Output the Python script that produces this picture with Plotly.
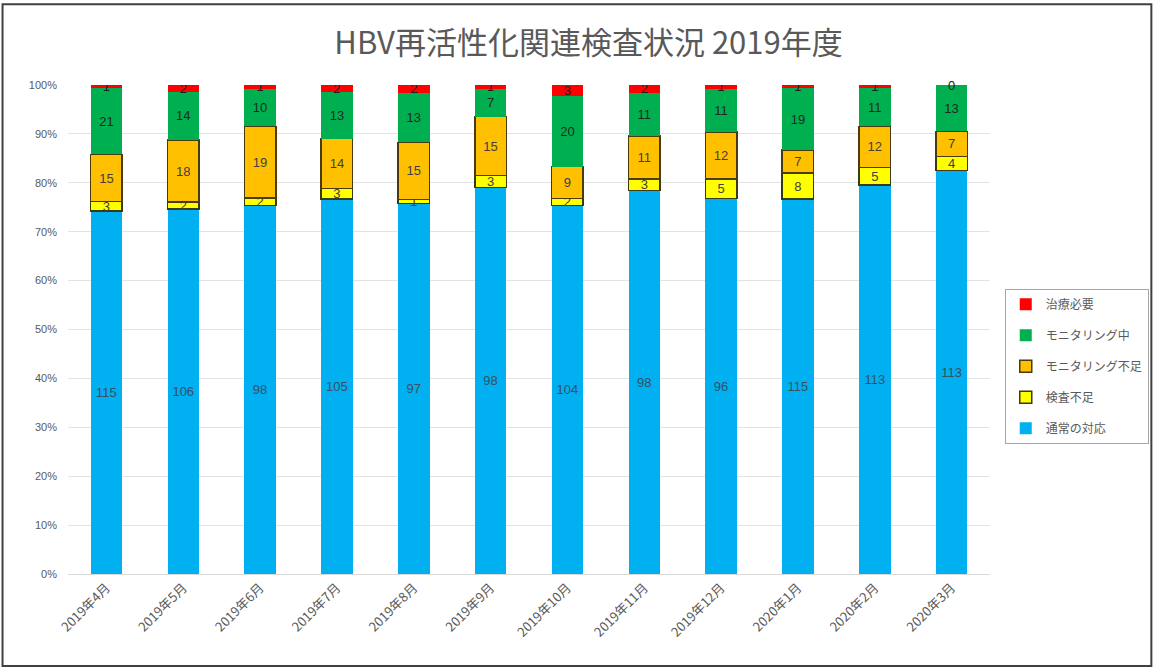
import plotly.graph_objects as go

months = ["2019年4月", "2019年5月", "2019年6月", "2019年7月", "2019年8月", "2019年9月",
          "2019年10月", "2019年11月", "2019年12月", "2020年1月", "2020年2月", "2020年3月"]
normal = [115, 106, 98, 105, 97, 98, 104, 98, 96, 115, 113, 113]          # 通常の対応
lack_test = [3, 2, 2, 3, 1, 3, 2, 3, 5, 8, 5, 4]                          # 検査不足
lack_monitor = [15, 18, 19, 14, 15, 15, 9, 11, 12, 7, 12, 7]              # モニタリング不足
monitoring = [21, 14, 10, 13, 13, 7, 20, 11, 11, 19, 11, 13]              # モニタリング中
treatment = [1, 2, 1, 2, 2, 1, 3, 2, 1, 1, 1, 0]                          # 治療必要

series = [
    ("通常の対応", normal, "#00B0F0", None, "#3B4F63"),
    ("検査不足", lack_test, "#FFFF00", "#3A3A10", "#404040"),
    ("モニタリング不足", lack_monitor, "#FFC000", "#4A3A10", "#404040"),
    ("モニタリング中", monitoring, "#00B050", None, "#1E2A22"),
    ("治療必要", treatment, "#FF0000", None, "#202020"),
]

fig = go.Figure()
n = len(series)
for i, (name, vals, color, line, tcolor) in enumerate(series):
    fig.add_trace(go.Bar(
        x=months, y=vals, name=name,
        marker=dict(color=color,
                    line=dict(color=line if line else color, width=1.5 if line else 0)),
        text=[str(v) for v in vals],
        textposition="inside", insidetextanchor="middle",
        textangle=0, constraintext="none",
        textfont=dict(size=13, color=tcolor, family="Liberation Sans, Arial"),
        legendgroup=name, legendrank=1000 + (n - i),
    ))

# zero-valued top segments still show their label at the top of the stack
for m, v in zip(months, treatment):
    if v == 0:
        fig.add_annotation(x=m, y=100, text=str(v), showarrow=False, yanchor="middle",
                           font=dict(size=13, color="#202020", family="Liberation Sans, Arial"))

fig.update_layout(
    width=1154, height=670,
    barmode="stack", barnorm="percent", bargap=0.59,
    paper_bgcolor="white", plot_bgcolor="white",
    margin=dict(l=68, r=164, t=85, b=96, autoexpand=False),
    title=dict(text="HBV再活性化関連検査状況 2019年度", x=0.51, xanchor="center",
               y=0.935, yanchor="middle",
               font=dict(size=31, color="#595959", family="Noto Sans CJK JP")),
    font=dict(family="Noto Sans CJK JP", color="#595959"),
    legend=dict(traceorder="grouped", x=1.016, xanchor="left", y=0.425, yanchor="middle",
                bordercolor="#A6A6A6", borderwidth=1, bgcolor="white",
                font=dict(size=12, color="#595959"), tracegroupgap=12,
                itemwidth=30),
    showlegend=True,
)
fig.update_yaxes(range=[0, 100], dtick=10, ticksuffix="%", showgrid=True,
                 gridcolor="#E3E3E3", zeroline=False, showline=False,
                 ticklabelstandoff=10,
                 tickfont=dict(size=11, color="#595959", family="Liberation Sans, Arial"))
fig.update_xaxes(tickangle=-45, showline=True, linecolor="#D9D9D9",
                 tickfont=dict(size=13, color="#595959"))

# outer chart frame
fig.add_shape(type="rect", xref="paper", yref="paper",
              x0=-0.071, x1=1.175, y0=-0.188, y1=1.165,
              line=dict(color="#404040", width=2), fillcolor="rgba(0,0,0,0)")

fig.write_html("out.html", config={"displayModeBar": False},
               post_script="document.body.style.margin='0';")
